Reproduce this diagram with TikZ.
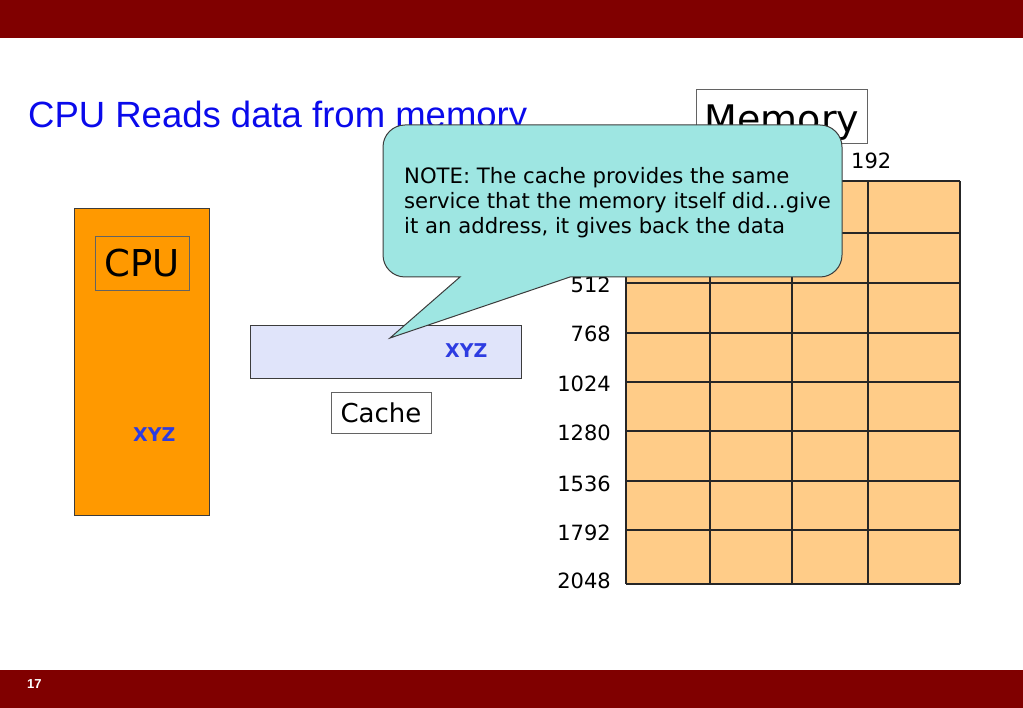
\documentclass[tikz,border=0pt]{standalone}
\usepackage{fontspec}
\setmainfont{DejaVu Sans}
\newfontfamily\titlefont{Liberation Sans}
\definecolor{barred}{RGB}{128,0,0}
\definecolor{titleblue}{RGB}{10,10,235}
\definecolor{cpuorange}{RGB}{255,153,0}
\definecolor{cachefill}{RGB}{224,228,250}
\definecolor{notefill}{RGB}{158,230,226}
\definecolor{memfill}{RGB}{255,204,136}
\definecolor{xyzblue}{RGB}{45,60,225}
\definecolor{edgegray}{RGB}{60,60,60}
\tikzset{
  box/.style={draw=edgegray, line width=1pt},
  lbl/.style={inner sep=0, font=\fontsize{21}{25}\selectfont},
  xyz/.style={inner sep=0, text=xyzblue, font=\bfseries\fontsize{19}{22}\selectfont},
  grid line/.style={draw=black!85, line width=1.1pt},
}
\begin{document}
\begin{tikzpicture}[x=1pt,y=-1pt]
\useasboundingbox (0,0) rectangle (1023,708);
% header and footer bars
\fill[barred] (0,0) rectangle (1023,38);
\fill[barred] (0,670) rectangle (1023,708);
\node[anchor=base west, inner sep=0, text=white, font=\titlefont\bfseries\fontsize{13}{15}\selectfont] (pagenum) at (27,688) {17};
% title
\node[anchor=base west, inner sep=0, text=titleblue, font=\titlefont\fontsize{36.5}{40}\selectfont] (title) at (28,128) {CPU Reads data from memory};
% CPU
\node[box, fill=cpuorange, anchor=north west, minimum width=135, minimum height=307, inner sep=0] (cpu) at (74,208) {};
\node[box, draw=edgegray!80, line width=0.8pt, anchor=base, inner sep=0, minimum width=94, text height=41, text depth=13, font=\fontsize{37}{40}\selectfont] (cpulabel) at (142,277) {CPU};
\node[xyz, anchor=base west] (cpuxyz) at (133,442) {XYZ};
% Cache
\node[box, fill=cachefill, anchor=north west, minimum width=271, minimum height=53, inner sep=0] (cache) at (250,325) {};
\node[xyz, anchor=base west] (cachexyz) at (445,358) {XYZ};
\node[box, draw=edgegray!80, line width=0.8pt, fill=white, anchor=base, inner sep=0, minimum width=100, text height=31, text depth=10, font=\fontsize{26}{30}\selectfont] (cachelabel) at (381,423) {Cache};
% Memory grid
\fill[memfill] (626,181) rectangle (960,584);
\foreach \yy in {181,233,283,333,382,431,481,530,584}
  \draw[grid line] (626,\yy) -- (960,\yy);
\foreach \xx in {626,710,792,868,960}
  \draw[grid line] (\xx,181) -- (\xx,584);
\foreach \txt/\yy in {512/293,768/342,1024/392,1280/441,1536/491,1792/540,2048/588}
  \node[lbl, anchor=base east] (addr\txt) at (611,\yy) {\txt};
\node[lbl, anchor=base west] (addr192) at (851,169) {192};
% Memory label
\node[box, draw=edgegray!80, line width=0.8pt, fill=white, anchor=base, inner sep=0, minimum width=171, text height=44, text depth=10, font=\fontsize{38}{42}\selectfont] (memlabel) at (782,133) {Memory};
% callout
\filldraw[fill=notefill, draw=edgegray, line width=1pt, line join=miter]
  (570,277) -- (820,277) arc[start angle=90, end angle=0, radius=22]
  -- (842,147) arc[start angle=0, end angle=-90, radius=22]
  -- (405,125) arc[start angle=-90, end angle=-180, radius=22]
  -- (383,255) arc[start angle=180, end angle=90, radius=22]
  -- (460,277) -- (390,338) -- cycle;
\node[anchor=north west, inner sep=0, align=left, font=\fontsize{21.2}{25}\selectfont] (note) at (404,167)
  {NOTE: The cache provides the same\\service that the memory itself did…give\\it an address, it gives back the data};
\end{tikzpicture}
\end{document}
